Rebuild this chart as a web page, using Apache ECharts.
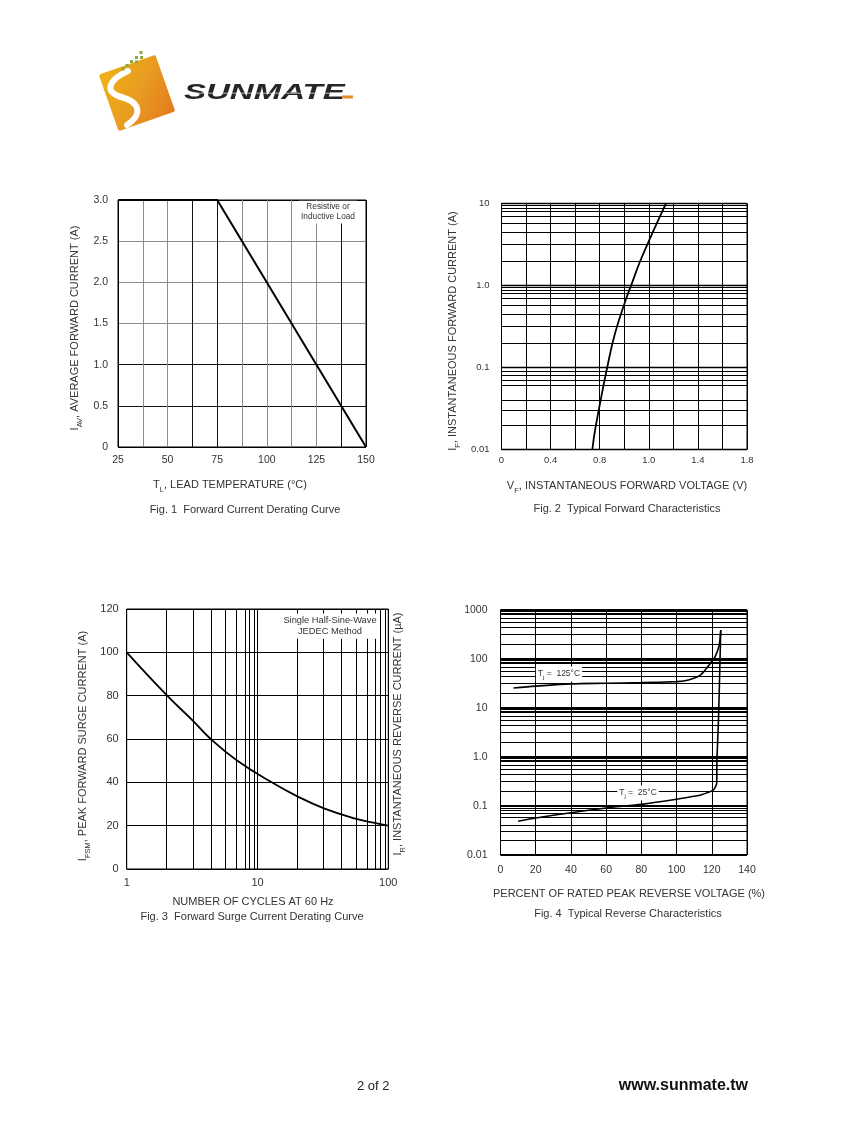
<!DOCTYPE html>
<html>
<head>
<meta charset="utf-8">
<script src="https://cdn.jsdelivr.net/npm/echarts@6/dist/echarts.min.js"></script>
<style>
html,body{margin:0;padding:0;background:#fff;}
#c{width:847px;height:1125px;}
</style>
</head>
<body>
<div id="c"></div>
<script>
// ---------- DATA ----------
// Fig.1 Forward current derating
const f1Temp = [25, 75, 150];
const f1Current = [3, 3, 0];
const f1YTicks = ['0', '0.5', '1.0', '1.5', '2.0', '2.5', '3.0'];

// Fig.2 Typical forward characteristics (x in axis units 0..1.8, 10 grid divisions)
const f2XTickText = ['0', '', '0.4', '', '0.8', '', '1.0', '', '1.4', '', '1.8'];
const f2Volt = [0.666, 0.686, 0.727, 0.776, 0.832, 0.91, 0.955, 1.015, 1.089, 1.15, 1.206];
const f2Curr = [0.01, 0.0172, 0.04, 0.102, 0.26, 0.66, 1.05, 1.95, 3.75, 6.3, 10];
const f2YTickVals = [0.01, 0.1, 1, 10];
const f2YTickText = ['0.01', '0.1', '1.0', '10'];

// Fig.3 Forward surge current derating
const f3Cycles = [1, 2.04, 3.2, 4.39, 6.93, 12.84, 20.5, 32.2, 55, 76.8, 100];
const f3Surge = [100, 80, 68.5, 60, 50.2, 40, 33.3, 28, 23.4, 21.4, 20];
const f3XTickVals = [1, 10, 100];
const f3XTickText = ['1', '10', '100'];

// Fig.4 Typical reverse characteristics
const f4Pct125 = [7.4, 20, 40, 60, 80, 100, 104, 109.4, 113.3, 116, 119, 121.7, 123.6, 124.5, 125.1];
const f4Ir125 = [25.6, 28, 31, 32, 33, 34.5, 35.5, 40, 46.5, 58, 80, 108, 160, 224, 389];
const f4Pct25 = [10, 20, 40, 60, 80, 100, 110, 113.3, 120.7, 122.8, 122.9, 123.8, 124.4, 124.8, 125.1];
const f4Ir25 = [0.049, 0.057, 0.073, 0.091, 0.108, 0.137, 0.158, 0.165, 0.21, 0.29, 0.85, 5.6, 37, 150, 389];
const f4YTickVals = [0.01, 0.1, 1, 10, 100, 1000];
const f4YTickText = ['0.01', '0.1', '1.0', '10', '100', '1000'];

// minor grid lines inside each decade, as drawn on the sheet
const logGridTemplate = [2, 3.2, 4.4, 5.7, 6.9, 8.0, 8.7, 9.4];

// ---------- helpers ----------
const zip = (a, b) => a.map((v, i) => [v, b[i]]);
function logMinors(lo, hi) {
  const out = [];
  for (let d = lo; d < hi * 0.999; d *= 10) {
    logGridTemplate.forEach(k => out.push(+(d * k).toPrecision(6)));
  }
  return out;
}
function logLabel(vals, texts) {
  return v => {
    const i = vals.findIndex(t => Math.abs(Math.log10(v) - Math.log10(t)) < 1e-6);
    return i >= 0 ? texts[i] : '';
  };
}
const FONT = '"Liberation Sans", Arial, sans-serif';
const TXT = '#333';
function mark(axisKey, vals) {
  return {
    silent: true, symbol: 'none', animation: false,
    label: { show: false },
    lineStyle: { color: '#000', width: 1, type: 'solid', opacity: 1 },
    emphasis: { disabled: true },
    data: vals.map(v => ({ [axisKey]: v }))
  };
}
const gridBase = { show: true, borderColor: '#000', borderWidth: 1, backgroundColor: 'transparent' };
const noAxis = { axisLine: { show: false }, axisTick: { show: false } };

function title(x, y, text, rot, size) {
  size = size || 11;
  return {
    type: 'text', x: x, y: y, rotation: rot ? Math.PI / 2 : 0, z: 100,
    style: {
      text: text, align: 'center', verticalAlign: 'middle', fill: TXT,
      fontFamily: FONT, fontSize: size,
      rich: {
        m: { fontFamily: FONT, fontSize: size, fill: TXT, lineHeight: 14, verticalAlign: 'middle' },
        s: { fontFamily: FONT, fontSize: size * 0.68, fill: TXT, lineHeight: 17, verticalAlign: 'bottom' }
      }
    }
  };
}
function note(x, y, text, size) {
  return {
    type: 'text', x: x, y: y, z: 100,
    style: {
      text: text, align: 'center', verticalAlign: 'middle', fill: TXT,
      fontFamily: FONT, fontSize: size, lineHeight: size * 1.25,
      backgroundColor: '#fff', padding: [1, 2, 1, 2],
      rich: {
        m: { fontFamily: FONT, fontSize: size, fill: TXT, lineHeight: 11, verticalAlign: 'middle' },
        s: { fontFamily: FONT, fontSize: size * 0.7, fill: TXT, lineHeight: 13, verticalAlign: 'bottom' }
      }
    }
  };
}
function dot(x, y) {
  return { type: 'rect', z: 51, shape: { x: x, y: y, width: 3, height: 3 }, style: { fill: '#8da83c' } };
}

const chart = echarts.init(document.getElementById('c'), null, { renderer: 'canvas' });

const option = {
  animation: false,
  backgroundColor: '#fff',
  grid: [
    Object.assign({ left: 118, top: 200, width: 248, height: 247 }, gridBase),
    Object.assign({ left: 501.5, top: 203.5, width: 245.5, height: 246 }, gridBase),
    Object.assign({ left: 126.7, top: 609, width: 261.6, height: 260 }, gridBase),
    Object.assign({ left: 500.5, top: 610, width: 246.5, height: 245 }, gridBase)
  ],
  xAxis: [
    Object.assign({
      type: 'value', gridIndex: 0, min: 25, max: 150, interval: 12.5,
      axisLabel: { margin: 8, fontSize: 10.5, color: TXT, fontFamily: FONT, formatter: v => (v % 25 === 0 ? String(v) : '') },
      splitLine: { show: true, lineStyle: { width: 1, color: ['#000', '#8c8c8c', '#8c8c8c', '#111', '#111', '#8c8c8c', '#8c8c8c', '#8c8c8c', '#8c8c8c', '#111', '#000'] } }
    }, noAxis),
    Object.assign({
      type: 'value', gridIndex: 1, min: 0, max: 1.8, interval: 0.18,
      axisLabel: { margin: 6, fontSize: 9.5, color: TXT, fontFamily: FONT, formatter: v => f2XTickText[Math.round(v / 0.18)] || '' },
      splitLine: { show: true, lineStyle: { width: 1, color: '#000' } }
    }, noAxis),
    Object.assign({
      type: 'log', logBase: 10, gridIndex: 2, min: 1, max: 100,
      axisLabel: { margin: 8, fontSize: 11, color: TXT, fontFamily: FONT, formatter: logLabel(f3XTickVals, f3XTickText) },
      splitLine: { show: true, lineStyle: { width: 1, color: '#000' } }
    }, noAxis),
    Object.assign({
      type: 'value', gridIndex: 3, min: 0, max: 140, interval: 20,
      axisLabel: { margin: 10, fontSize: 10.5, color: TXT, fontFamily: FONT },
      splitLine: { show: true, lineStyle: { width: 1, color: '#000' } }
    }, noAxis)
  ],
  yAxis: [
    Object.assign({
      type: 'value', gridIndex: 0, min: 0, max: 3, interval: 0.5,
      axisLabel: { margin: 10, fontSize: 10.5, color: TXT, fontFamily: FONT, formatter: v => f1YTicks[Math.round(v / 0.5)] },
      splitLine: { show: true, lineStyle: { width: 1, color: ['#000', '#111', '#111', '#8c8c8c', '#8c8c8c', '#8c8c8c', '#000'] } }
    }, noAxis),
    Object.assign({
      type: 'log', logBase: 10, gridIndex: 1, min: 0.01, max: 10,
      axisLabel: { margin: 12, fontSize: 9.5, color: TXT, fontFamily: FONT, formatter: logLabel(f2YTickVals, f2YTickText) },
      splitLine: { show: true, lineStyle: { width: 1.3, color: '#000' } }
    }, noAxis),
    Object.assign({
      type: 'value', gridIndex: 2, min: 0, max: 120, interval: 20,
      axisLabel: { margin: 8, fontSize: 11, color: TXT, fontFamily: FONT },
      splitLine: { show: true, lineStyle: { width: 1, color: '#000' } }
    }, noAxis),
    Object.assign({
      type: 'log', logBase: 10, gridIndex: 3, min: 0.01, max: 1000,
      axisLabel: { margin: 13, fontSize: 10.5, color: TXT, fontFamily: FONT, formatter: logLabel(f4YTickVals, f4YTickText) },
      splitLine: { show: true, lineStyle: { width: 2, color: '#000' } }
    }, noAxis)
  ],
  series: [
    {
      type: 'line', xAxisIndex: 0, yAxisIndex: 0, data: zip(f1Temp, f1Current),
      symbol: 'none', lineStyle: { color: '#000', width: 2 }, z: 10
    },
    {
      type: 'line', xAxisIndex: 1, yAxisIndex: 1, data: zip(f2Volt, f2Curr),
      symbol: 'none', smooth: 0.45, lineStyle: { color: '#000', width: 1.8 }, z: 10,
      markLine: mark('yAxis', logMinors(0.01, 10))
    },
    {
      type: 'line', xAxisIndex: 2, yAxisIndex: 2, data: zip(f3Cycles, f3Surge),
      symbol: 'none', smooth: 0.45, lineStyle: { color: '#000', width: 1.8 }, z: 10,
      markLine: mark('xAxis', logMinors(1, 100))
    },
    {
      type: 'line', xAxisIndex: 3, yAxisIndex: 3, data: zip(f4Pct125, f4Ir125),
      symbol: 'none', smooth: 0.3, lineStyle: { color: '#000', width: 1.6 }, z: 10,
      markLine: mark('yAxis', logMinors(0.01, 1000))
    },
    {
      type: 'line', xAxisIndex: 3, yAxisIndex: 3, data: zip(f4Pct25, f4Ir25),
      symbol: 'none', smooth: 0.2, lineStyle: { color: '#000', width: 1.6 }, z: 10
    }
  ],
  graphic: [
    // ---- logo ----
    {
      type: 'rect', x: 137, y: 93, rotation: 0.34, z: 50,
      shape: { x: -30, y: -30, width: 60, height: 60, r: 2 },
      style: {
        fill: new echarts.graphic.LinearGradient(0, 0, 1, 1, [
          { offset: 0, color: '#efb316' }, { offset: 0.55, color: '#e89a22' }, { offset: 1, color: '#e47a1c' }
        ])
      }
    },
    {
      type: 'bezierCurve', z: 51,
      shape: { x1: 128, y1: 71, cpx1: 108, cpy1: 80, cpx2: 104, cpy2: 92, x2: 121, y2: 97 },
      style: { fill: 'none', stroke: '#fff', lineWidth: 6, lineCap: 'round' }
    },
    {
      type: 'bezierCurve', z: 51,
      shape: { x1: 121, y1: 97, cpx1: 140, cpy1: 102, cpx2: 143, cpy2: 114, x2: 127, y2: 125 },
      style: { fill: 'none', stroke: '#fff', lineWidth: 6, lineCap: 'round' }
    },
    dot(139.5, 51), dot(135, 56), dot(140, 56), dot(130, 60), dot(135, 60.5), dot(125.5, 64), dot(121.5, 67.5),
    {
      type: 'text', x: 184, y: 93, scaleX: 1.5, z: 50,
      style: { text: 'SUNMATE', fill: '#262626', fontFamily: FONT, fontSize: 22, fontWeight: 'bold', fontStyle: 'italic', verticalAlign: 'middle', align: 'left' }
    },
    { type: 'rect', z: 52, shape: { x: 184, y: 92.5, width: 170, height: 1.4 }, style: { fill: 'rgba(255,255,255,0.45)' } },
    { type: 'rect', z: 52, shape: { x: 342, y: 95.5, width: 11, height: 3 }, style: { fill: '#e5892d' } },

    // ---- Fig.1 texts ----
    title(75, 328, '{m|I}{s|AV}{m|, AVERAGE FORWARD CURRENT (A)}', true),
    title(230, 485, '{m|T}{s|L}{m|, LEAD TEMPERATURE (°C)}', false),
    title(245, 510, 'Fig. 1  Forward Current Derating Curve', false),
    note(328, 212, 'Resistive or\nInductive Load', 8.3),

    // ---- Fig.2 texts ----
    title(453, 331, '{m|I}{s|F}{m|, INSTANTANEOUS FORWARD CURRENT (A)}', true),
    title(627, 486, '{m|V}{s|F}{m|, INSTANTANEOUS FORWARD VOLTAGE (V)}', false),
    title(627, 509, 'Fig. 2  Typical Forward Characteristics', false),

    // ---- Fig.3 texts ----
    title(83, 746, '{m|I}{s|FSM}{m|, PEAK FORWARD SURGE CURRENT (A)}', true),
    title(253, 902, 'NUMBER OF CYCLES AT 60 Hz', false),
    title(252, 916.5, 'Fig. 3  Forward Surge Current Derating Curve', false),
    note(330, 626, 'Single Half-Sine-Wave\nJEDEC Method', 9.3),

    // ---- Fig.4 texts ----
    title(398, 734, '{m|I}{s|R}{m|, INSTANTANEOUS REVERSE CURRENT (µA)}', true),
    title(629, 894, 'PERCENT OF RATED PEAK REVERSE VOLTAGE (%)', false),
    title(628, 914, 'Fig. 4  Typical Reverse Characteristics', false),
    note(559, 674, '{m|T}{s|j}{m| =  125°C}', 8.5),
    note(638, 793, '{m|T}{s|j}{m| =  25°C}', 8.5),

    // ---- footer ----
    { type: 'text', x: 357, y: 1086, style: { text: '2 of 2', fill: '#222', fontFamily: FONT, fontSize: 13, verticalAlign: 'middle', align: 'left' } },
    { type: 'text', x: 748, y: 1086, style: { text: 'www.sunmate.tw', fill: '#111', fontFamily: FONT, fontSize: 16, fontWeight: 'bold', verticalAlign: 'middle', align: 'right' } }
  ]
};
chart.setOption(option);
</script>
</body>
</html>
